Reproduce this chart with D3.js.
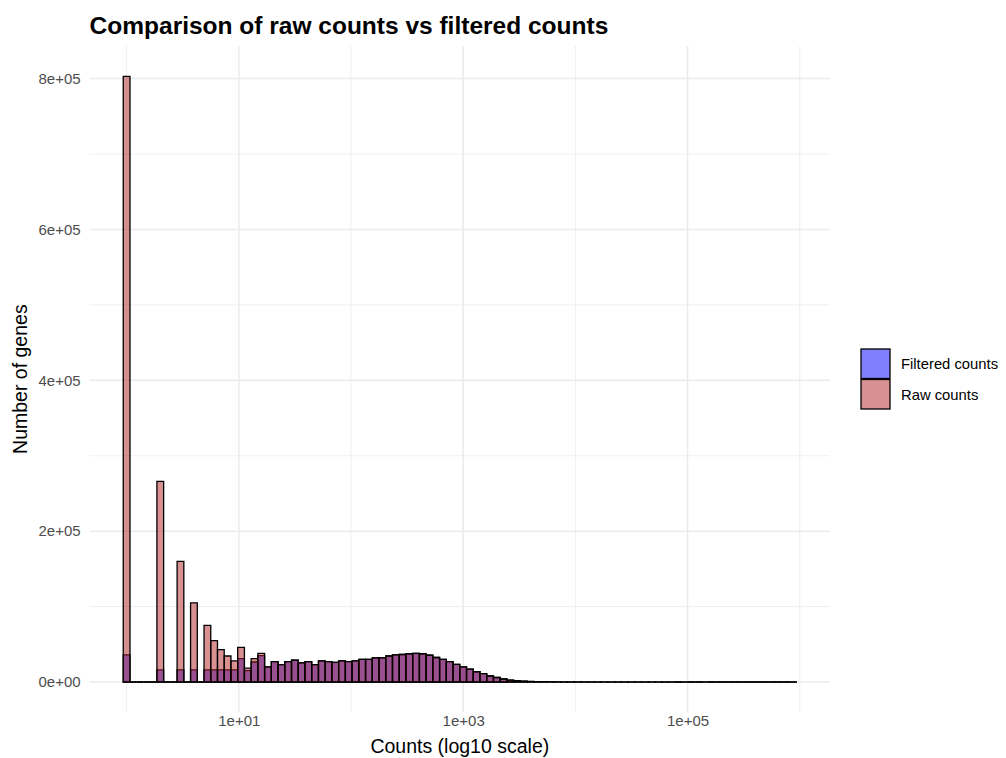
<!DOCTYPE html>
<html>
<head>
<meta charset="utf-8">
<script src="https://cdn.jsdelivr.net/npm/d3@7"></script>
<style>
  body { margin: 0; background: #fff; }
  text { font-family: "Liberation Sans", Arial, sans-serif; }
</style>
</head>
<body>
<div id="chart"></div>
<script>
// histogram bins in log10 space (100 bins, width 0.06, first bin centred on 0)
const binCount = 100;
const binWidth = 0.06;
const binStart = -0.03;

// raw counts per bin
const rawCounts = [
  803000, 0, 0, 0, 0, 266000, 0, 0, 160000, 0,
  105000, 0, 75000, 55000, 43000, 34500, 28000, 46000, 18500, 31000,
  38000, 20000, 27000, 23000, 27000, 29000, 25500, 27000, 23000, 28000,
  27000, 26000, 28000, 27000, 28000, 30000, 30000, 32000, 32000, 34500,
  36000, 36500, 37500, 38000, 37500, 35500, 32500, 30000, 27000, 23500,
  20000, 17000, 13600, 11000, 8000, 6000, 4000, 2600, 1700, 1100,
  700, 450, 300, 200, 130, 90, 60, 40, 30, 20,
  14, 10, 8, 6, 4, 3, 3, 2, 2, 1,
  1, 1, 0, 1, 0, 0, 1, 0, 0, 0,
  0, 0, 0, 0, 0, 0, 0, 0, 0, 1
];

// filtered counts per bin
const filteredCounts = [
  36000, 0, 0, 0, 0, 16000, 0, 0, 16000, 0,
  16000, 0, 16000, 16000, 16000, 16000, 16000, 31000, 15000, 26500,
  35000, 20000, 27000, 23000, 27000, 29000, 25500, 27000, 23000, 28000,
  27000, 26000, 28000, 27000, 28000, 30000, 30000, 32000, 32000, 34500,
  36000, 36500, 37500, 38000, 37500, 35500, 32500, 30000, 27000, 23500,
  20000, 17000, 13600, 11000, 8000, 6000, 4000, 2600, 1700, 1100,
  700, 450, 300, 200, 130, 90, 60, 40, 30, 20,
  14, 10, 8, 6, 4, 3, 3, 2, 2, 1,
  1, 1, 0, 1, 0, 0, 1, 0, 0, 0,
  0, 0, 0, 0, 0, 0, 0, 0, 0, 1
];

const seriesNames = ["Filtered counts", "Raw counts"];
const seriesColors = ["#0000FF", "#B22222"];
const xTicks = [1e1, 1e3, 1e5];
const xMinor = [1e0, 1e2, 1e4, 1e6];
const yTicks = [0, 2e5, 4e5, 6e5, 8e5];
const yMinor = [1e5, 3e5, 5e5, 7e5];

const W = 1006, H = 758;
const panel = { left: 89.6, right: 830, top: 46, bottom: 712.3 };

const svg = d3.select("#chart")
  .append("svg")
  .attr("width", W)
  .attr("height", H);

svg.append("rect").attr("width", W).attr("height", H).attr("fill", "#fff");

// build bins
const bins = d3.range(binCount).map((i) => ({
  x0: Math.pow(10, binStart + binWidth * i),
  x1: Math.pow(10, binStart + binWidth * (i + 1)),
  raw: rawCounts[i],
  filtered: filteredCounts[i]
}));

const lo = binStart, hi = binStart + binWidth * binCount;
const pad = (hi - lo) * 0.05;
const x = d3.scaleLog()
  .domain([Math.pow(10, lo - pad), Math.pow(10, hi + pad)])
  .range([panel.left, panel.right]);

const yMax = d3.max(rawCounts);
const y = d3.scaleLinear()
  .domain([-yMax * 0.05, yMax * 1.05])
  .range([panel.bottom, panel.top]);

// grid
const grid = svg.append("g");
grid.selectAll(".ymin").data(yMinor).join("line")
  .attr("x1", panel.left).attr("x2", panel.right)
  .attr("y1", (d) => y(d)).attr("y2", (d) => y(d))
  .attr("stroke", "#EBEBEB").attr("stroke-width", 0.8);
grid.selectAll(".xmin").data(xMinor).join("line")
  .attr("x1", (d) => x(d)).attr("x2", (d) => x(d))
  .attr("y1", panel.top).attr("y2", panel.bottom)
  .attr("stroke", "#EBEBEB").attr("stroke-width", 0.8);
grid.selectAll(".ymaj").data(yTicks).join("line")
  .attr("x1", panel.left).attr("x2", panel.right)
  .attr("y1", (d) => y(d)).attr("y2", (d) => y(d))
  .attr("stroke", "#EBEBEB").attr("stroke-width", 1.5);
grid.selectAll(".xmaj").data(xTicks).join("line")
  .attr("x1", (d) => x(d)).attr("x2", (d) => x(d))
  .attr("y1", panel.top).attr("y2", panel.bottom)
  .attr("stroke", "#EBEBEB").attr("stroke-width", 1.5);

// bars as closed paths so empty bins still show their outline on the baseline
const barPath = (d, key) => {
  const x0 = x(d.x0), x1 = x(d.x1), yb = y(0), yt = y(d[key]);
  return `M${x0},${yb}V${yt}H${x1}V${yb}Z`;
};
const series = [
  { key: "filtered", color: seriesColors[0] },
  { key: "raw", color: seriesColors[1] }
];
series.forEach((s) => {
  svg.append("g")
    .selectAll("path")
    .data(bins)
    .join("path")
    .attr("d", (d) => barPath(d, s.key))
    .attr("fill", s.color)
    .attr("fill-opacity", 0.5)
    .attr("stroke", "#000")
    .attr("stroke-width", 1.3)
    .attr("stroke-linejoin", "miter");
});

// axes
const fmtExp = (d) => {
  const e = Math.round(Math.log10(d));
  return "1e+" + String(e).padStart(2, "0");
};
const xAxis = svg.append("g")
  .attr("transform", `translate(0, ${panel.bottom})`)
  .call(d3.axisBottom(x).tickValues(xTicks).tickFormat(fmtExp).tickSize(0).tickPadding(3));
xAxis.select(".domain").remove();
xAxis.selectAll("text").attr("fill", "#4D4D4D").style("font-size", "15px")
  .style("font-family", "Liberation Sans, Arial, sans-serif");

const yFmt = (d) => {
  if (d === 0) return "0e+00";
  const e = Math.floor(Math.log10(d));
  return (d / Math.pow(10, e)) + "e+" + String(e).padStart(2, "0");
};
const yAxis = svg.append("g")
  .attr("transform", `translate(${panel.left}, 0)`)
  .call(d3.axisLeft(y).tickValues(yTicks).tickFormat(yFmt).tickSize(0).tickPadding(9));
yAxis.select(".domain").remove();
yAxis.selectAll("text").attr("fill", "#4D4D4D").style("font-size", "15px")
  .style("font-family", "Liberation Sans, Arial, sans-serif");

// titles
svg.append("text")
  .attr("x", panel.left).attr("y", 34)
  .style("font-size", "24.5px").style("font-weight", "bold")
  .attr("fill", "#000")
  .text("Comparison of raw counts vs filtered counts");

svg.append("text")
  .attr("x", (panel.left + panel.right) / 2).attr("y", 753)
  .attr("text-anchor", "middle")
  .style("font-size", "19.5px")
  .text("Counts (log10 scale)");

svg.append("text")
  .attr("transform", `translate(27, ${(panel.top + panel.bottom) / 2}) rotate(-90)`)
  .attr("text-anchor", "middle")
  .style("font-size", "19.5px")
  .text("Number of genes");

// legend
const legend = svg.append("g").attr("transform", "translate(861, 349)");
seriesNames.forEach((name, i) => {
  legend.append("rect")
    .attr("x", 0).attr("y", i * 30.5)
    .attr("width", 29).attr("height", 29.5)
    .attr("fill", seriesColors[i]).attr("fill-opacity", 0.5)
    .attr("stroke", "#000").attr("stroke-width", 1.3);
  legend.append("text")
    .attr("x", 40).attr("y", i * 30.5 + 15)
    .attr("dy", "0.35em")
    .style("font-size", "14.8px")
    .text(name);
});
</script>
</body>
</html>
